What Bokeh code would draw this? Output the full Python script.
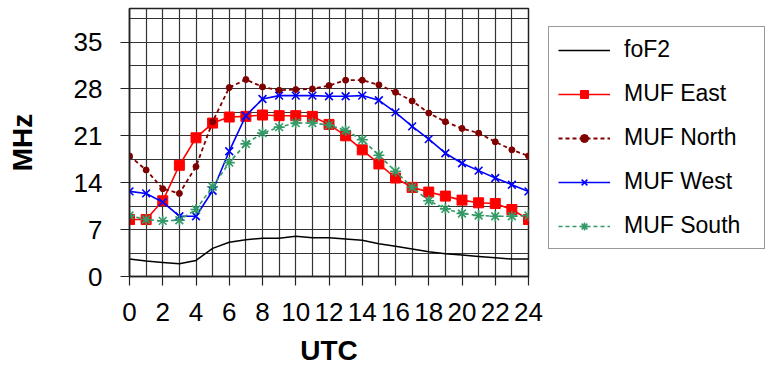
from bokeh.plotting import figure
from bokeh.models import FixedTicker, Legend, LegendItem, Range1d
from bokeh.embed import file_html
from bokeh.resources import INLINE

# ---- data ----
hours = list(range(25))
fof2 = [2.6, 2.3, 2.1, 1.9, 2.4, 4.2, 5.1, 5.5, 5.7, 5.7, 6.0, 5.8, 5.8,
        5.6, 5.4, 4.9, 4.5, 4.1, 3.7, 3.4, 3.2, 3.0, 2.8, 2.6, 2.6]
muf_east = [8.5, 8.5, 11.3, 16.6, 20.7, 22.9, 23.8, 23.9, 24.1, 24.0, 24.0, 23.9, 22.7,
            21.0, 18.9, 16.8, 14.7, 13.3, 12.6, 12.0, 11.4, 11.0, 10.9, 10.0, 8.5]
muf_north = [18.0, 15.9, 13.1, 12.4, 16.4, 23.1, 28.2, 29.4, 28.3, 27.8, 27.9, 28.0, 28.5,
             29.3, 29.3, 28.6, 27.5, 26.2, 24.4, 23.1, 22.1, 21.4, 20.1, 18.9, 18.0]
muf_west = [12.7, 12.4, 11.1, 9.0, 9.0, 12.8, 18.7, 24.0, 26.5, 27.0, 27.0, 27.0, 26.9,
            26.9, 27.0, 26.3, 24.5, 22.4, 20.5, 18.4, 16.9, 15.8, 14.7, 13.7, 12.7]
muf_south = [9.1, 8.5, 8.3, 8.4, 10.0, 13.4, 17.0, 19.8, 21.4, 22.3, 22.9, 22.9, 22.6,
             21.8, 20.4, 18.1, 15.7, 13.3, 11.3, 10.1, 9.4, 9.1, 9.0, 9.0, 9.1]
y_ticks = [0, 7, 14, 21, 28, 35]
x_ticks = list(range(0, 25, 2))

FONT = "Liberation Sans"

p = figure(frame_width=399, frame_height=268, output_backend="svg", toolbar_location=None,
           min_border_left=129, min_border_right=237, min_border_top=8, min_border_bottom=91,
           x_range=Range1d(0, 24), y_range=Range1d(0, 40))

# grid
p.xgrid.ticker = FixedTicker(ticks=hours)
p.ygrid.ticker = FixedTicker(ticks=[i * 3.5 for i in range(12)])
for g in (p.xgrid, p.ygrid):
    g.grid_line_color = "#333333"
    g.grid_line_width = 1.2
    g.grid_line_alpha = 1.0
p.outline_line_color = "#222222"
p.outline_line_width = 1.5

# axes
p.xaxis.ticker = FixedTicker(ticks=x_ticks)
p.yaxis.ticker = FixedTicker(ticks=y_ticks)
for ax in (p.xaxis, p.yaxis):
    ax.major_label_text_font = FONT
    ax.major_label_text_color = "black"
    ax.axis_label_text_font = FONT
    ax.axis_label_text_font_style = "bold"
    ax.axis_label_text_font_size = "28px"
    ax.axis_label_text_color = "black"
    ax.major_tick_in = 0
    ax.major_tick_out = 9
    ax.minor_tick_in = 0
    ax.minor_tick_out = 0
    ax.major_tick_line_color = "#222222"
    ax.major_tick_line_width = 1.2
    ax.axis_line_color = "#222222"
    ax.axis_line_width = 1.5
p.yaxis.major_label_text_font_size = "26px"
p.xaxis.major_label_text_font_size = "26px"
p.yaxis.major_label_standoff = 18
p.xaxis.major_label_standoff = 17
p.yaxis.axis_label = "MHz"
p.xaxis.axis_label = "UTC"
p.yaxis.axis_label_standoff = 33
p.xaxis.axis_label_standoff = 11

# series
r0 = p.line(hours, fof2, line_color="black", line_width=1.5)
r1 = p.line(hours, muf_east, line_color="#FF0000", line_width=1.6)
m1 = p.scatter(hours, muf_east, marker="square", size=10, fill_color="#FF0000", line_color="#FF0000")
r2 = p.line(hours, muf_north, line_color="#800000", line_width=1.8, line_dash="4 3")
m2 = p.scatter(hours, muf_north, marker="circle", size=6, fill_color="#800000", line_color="#800000")
r3 = p.line(hours, muf_west, line_color="#0000FF", line_width=1.6)
m3 = p.scatter(hours, muf_west, marker="x", size=11, line_color="#0000FF", line_width=1.6)
r4 = p.line(hours, muf_south, line_color="#339966", line_width=1.6, line_dash="4 3")
m4 = p.scatter(hours, muf_south, marker="asterisk", size=11, line_color="#339966", line_width=1.6)

legend = Legend(items=[
    LegendItem(label="foF2", renderers=[r0]),
    LegendItem(label="MUF East", renderers=[r1, m1]),
    LegendItem(label="MUF North", renderers=[r2, m2]),
    LegendItem(label="MUF West", renderers=[r3, m3]),
    LegendItem(label="MUF South", renderers=[r4, m4]),
], location=(20, 27))
legend.label_text_font = FONT
legend.label_text_font_size = "23px"
legend.label_text_color = "black"
legend.glyph_width = 52
legend.glyph_height = 20
legend.label_height = 20
legend.label_width = 131
legend.label_standoff = 14
legend.spacing = 17
legend.padding = 9
legend.margin = 0
legend.border_line_color = "#333333"
legend.border_line_width = 1.2
legend.background_fill_alpha = 1.0
p.add_layout(legend, "right")

open("out.html", "w").write(file_html(p, INLINE))
